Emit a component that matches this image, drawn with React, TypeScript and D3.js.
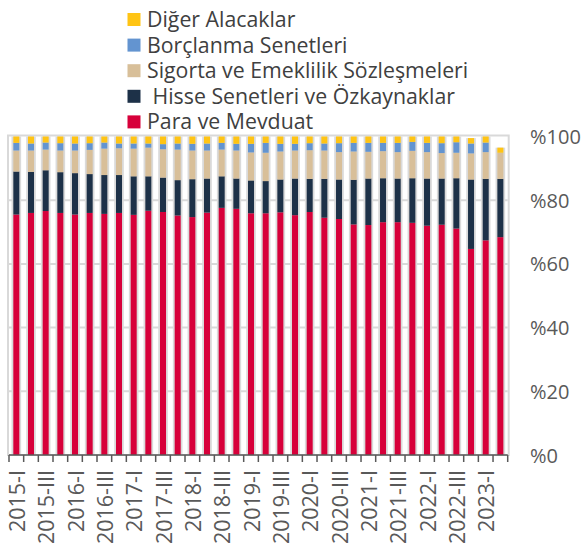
import React from 'react';
import * as d3 from 'd3';

// quarters 2015-I .. 2023-II
const quarters = [
  '2015-I', '2015-II', '2015-III', '2015-IV',
  '2016-I', '2016-II', '2016-III', '2016-IV',
  '2017-I', '2017-II', '2017-III', '2017-IV',
  '2018-I', '2018-II', '2018-III', '2018-IV',
  '2019-I', '2019-II', '2019-III', '2019-IV',
  '2020-I', '2020-II', '2020-III', '2020-IV',
  '2021-I', '2021-II', '2021-III', '2021-IV',
  '2022-I', '2022-II', '2022-III', '2022-IV',
  '2023-I', '2023-II',
];

// shares, %
const paraMevduat = [
  75.5, 76.0, 76.6, 76.0, 75.5, 76.0, 75.7, 76.0, 75.4, 76.7, 76.3, 75.2,
  74.7, 76.1, 77.6, 77.3, 75.9, 75.9, 76.2, 75.3, 76.3, 74.5, 74.1, 72.4,
  72.2, 73.1, 73.1, 72.9, 72.0, 72.3, 71.1, 64.7, 67.4, 68.4,
];
const hisseSenetleri = [
  13.5, 12.9, 12.8, 12.8, 13.0, 12.2, 12.2, 11.9, 12.1, 10.8, 10.8, 11.1,
  11.9, 10.7, 9.9, 9.5, 10.3, 10.1, 10.3, 11.5, 10.4, 12.2, 12.4, 14.0,
  14.6, 13.8, 13.7, 14.0, 14.8, 14.5, 15.8, 21.8, 19.3, 18.3,
];
const sigortaEmeklilik = [
  6.6, 6.7, 6.5, 6.8, 7.1, 7.6, 8.3, 8.4, 8.7, 9.0, 8.9, 9.6,
  9.0, 8.8, 8.4, 8.8, 8.8, 8.9, 8.8, 8.8, 9.0, 8.9, 8.6, 8.9,
  8.4, 8.5, 8.3, 8.6, 8.3, 8.0, 8.0, 8.2, 8.4, 8.2,
];
const borclanmaSenetleri = [
  2.4, 2.2, 2.2, 2.3, 2.2, 2.1, 1.9, 1.5, 1.6, 1.3, 1.6, 1.9,
  2.1, 2.2, 2.1, 2.1, 2.7, 3.1, 2.4, 2.1, 2.2, 2.2, 2.8, 2.7,
  2.8, 2.6, 2.9, 2.8, 2.9, 3.1, 3.3, 3.1, 3.0, 0,
];
const digerAlacaklar = [
  2.0, 2.2, 1.9, 2.1, 2.2, 2.1, 1.9, 2.2, 2.2, 2.2, 2.4, 2.2,
  2.3, 2.2, 2.0, 2.3, 2.3, 2.0, 2.3, 2.3, 2.1, 2.2, 2.1, 2.0,
  2.0, 2.0, 2.0, 1.7, 2.0, 2.1, 1.8, 1.7, 1.9, 1.6,
];

const yTicks = [0, 20, 40, 60, 80, 100];

const series = [
  { key: 'para', name: 'Para ve Mevduat', color: '#d7003a', values: paraMevduat },
  { key: 'hisse', name: ' Hisse Senetleri ve Özkaynaklar', color: '#1d3148', values: hisseSenetleri },
  { key: 'sigorta', name: 'Sigorta ve Emeklilik Sözleşmeleri', color: '#d8bf99', values: sigortaEmeklilik },
  { key: 'borc', name: 'Borçlanma Senetleri', color: '#6394d0', values: borclanmaSenetleri },
  { key: 'diger', name: 'Diğer Alacaklar', color: '#ffc414', values: digerAlacaklar },
];

const W = 583;
const H = 545;
const plot = { left: 9, right: 507.7, top: 136.5, bottom: 455 };
const FONT = '"Open Sans", "Noto Sans", sans-serif';

export default function App() {
  const rows = quarters.map((q, i) => {
    const r: any = { q };
    series.forEach(s => { r[s.key] = s.values[i]; });
    return r;
  });
  const stacked = d3.stack().keys(series.map(s => s.key))(rows);

  const x = d3.scaleBand<string>()
    .domain(quarters)
    .range([plot.left, plot.right])
    .paddingInner(0.59)
    .paddingOuter(0.295);
  const y = d3.scaleLinear().domain([0, 100]).range([plot.bottom, plot.top]);
  const step = x.step();
  const bw = x.bandwidth();

  const legend = [...series].reverse();

  return (
    <svg width={W} height={H} style={{ position: 'absolute', left: 0, top: 0, background: '#fff' }}
      fontFamily={FONT}>
      {/* legend */}
      {legend.map((s, i) => {
        const cy = 19.5 + i * 25.6;
        return (
          <g key={s.key}>
            <rect x={127.5} y={cy - 6.5} width={13} height={13} fill={s.color} />
            <text x={147} y={cy + 7.5} fontSize={21.3} fill="#404040" style={{ whiteSpace: 'pre' }}>{s.name}</text>
          </g>
        );
      })}

      {/* plot frame + gridlines */}
      {yTicks.filter(t => t > 0 && t < 100).map(t => (
        <line key={t} x1={plot.left} x2={plot.right} y1={y(t)} y2={y(t)} stroke="#d9d9d9" strokeWidth={2} />
      ))}
      <rect x={plot.left - 1} y={plot.top - 1} width={plot.right - plot.left + 2} height={plot.bottom - plot.top + 1}
        fill="none" stroke="#d9d9d9" strokeWidth={2} />

      {/* bar outlines */}
      {rows.map((r, i) => {
        const top = y(d3.sum(series, s => s.values[i]));
        return (
          <rect key={r.q} x={(x(r.q) as number) - 1.8} width={bw + 3.6} y={top}
            height={plot.bottom - top} fill="#dadada" />
        );
      })}

      {/* stacked bars */}
      {stacked.map((layer, li) => (
        <g key={layer.key} fill={series[li].color}>
          {layer.map((d: any, i) => (
            d[1] - d[0] > 0 ? (
              <rect key={i} x={x(quarters[i])} width={bw} y={y(d[1])} height={y(d[0]) - y(d[1])} />
            ) : null
          ))}
        </g>
      ))}

      {/* x axis */}
      <line x1={plot.left} x2={plot.right} y1={plot.bottom} y2={plot.bottom} stroke="#595959" strokeWidth={1.5} />
      {d3.range(quarters.length + 1).map(i => (
        <line key={i} x1={plot.left + i * step} x2={plot.left + i * step} y1={plot.bottom} y2={plot.bottom + 7}
          stroke="#595959" strokeWidth={1.5} />
      ))}
      {quarters.map((q, i) => i % 2 === 0 ? (
        <text key={q} transform={`translate(${(x(q) as number) + bw / 2},${plot.bottom + 15}) rotate(-90)`}
          textAnchor="end" dominantBaseline="central" fontSize={21.5} fill="#595959">{q}</text>
      ) : null)}

      {/* y axis labels (right) */}
      {yTicks.map(t => (
        <text key={t} x={530} y={y(t)} dominantBaseline="central" fontSize={20} fill="#595959">%{t}</text>
      ))}
    </svg>
  );
}
